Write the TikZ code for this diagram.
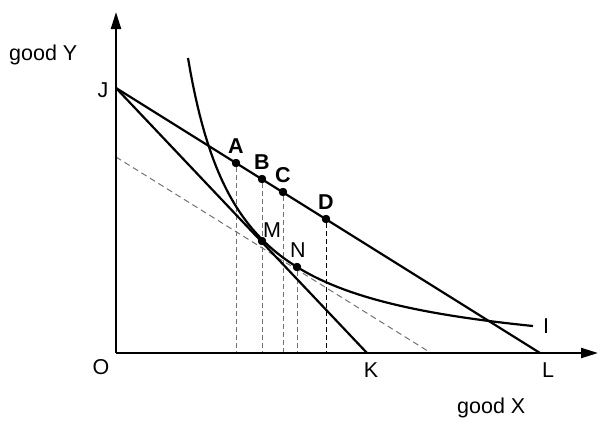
\documentclass[tikz,border=0pt]{standalone}
\usepackage{fontspec}
\setmainfont{Liberation Sans}
\usetikzlibrary{arrows.meta}
\begin{document}
\begin{tikzpicture}[x=1pt,y=-1pt,
  axis/.style={line width=2.2pt,-{Triangle[length=17pt,width=10pt]}},
  budget/.style={line width=2.2pt,line join=round},
  guide/.style={line width=1pt,black!55,dash pattern=on 5pt off 3pt},
  darkguide/.style={line width=1pt,black,dash pattern=on 5pt off 3pt},
  slope/.style={line width=1pt,black!55,dash pattern=on 6pt off 4pt},
  dot/.style={circle,fill=black,inner sep=0pt,minimum size=8pt},
  lbl/.style={font=\fontsize{21.5}{26}\selectfont,inner sep=0pt},
  blbl/.style={font=\fontsize{21.5}{26}\selectfont\bfseries,inner sep=0pt}]
\useasboundingbox (0,0) rectangle (610,434);
% key coordinates
\coordinate (O) at (116,353);
\coordinate (ytop) at (116,12);
\coordinate (xend) at (598,353);
\coordinate (J) at (116,88);
\coordinate (K) at (367,353);
\coordinate (L) at (540,353);
\coordinate (P0) at (116,157);
\coordinate (P1) at (431,353);
\coordinate (Ax) at (236,353);
\coordinate (Bx) at (262,353);
\coordinate (Cx) at (283,353);
\coordinate (Nx) at (297,353);
\coordinate (Dx) at (326,353);
% points
\node[dot] (A) at (236,163) {};
\node[dot] (B) at (262,179) {};
\node[dot] (C) at (283,192) {};
\node[dot] (D) at (326,219) {};
\node[dot] (M) at (262,241) {};
\node[dot] (N) at (297,267) {};
% guides
\draw[guide] (A) -- (Ax);
\draw[guide] (B) -- (Bx);
\draw[guide] (C) -- (Cx);
\draw[guide] (N) -- (Nx);
\draw[darkguide] (D) -- (Dx);
\draw[slope] (P0) -- (P1);
% budget lines
\draw[budget] (J) -- (L);
\draw[budget] (J) -- (K);
% indifference curve
\draw[budget] plot[domain=72:417,samples=150] ({116+\x},{353-(15941/(\x-20.27)-13.18)});
% axes
\draw[axis] (O) -- (ytop);
\draw[axis] (O) -- (xend);
% redraw dots on top
\foreach \p in {A,B,C,D,M,N} \fill (\p) circle (4.2pt);
% labels
\node[lbl,anchor=base west] (gy) at (9,60) {good Y};
\node[lbl,anchor=base west] (gx) at (457,413) {good X};
\node[lbl] (lJ) at (103,90) {J};
\node[lbl] (lO) at (101,367) {O};
\node[lbl] (lK) at (371,370) {K};
\node[lbl] (lL) at (548,370) {L};
\node[lbl] (lI) at (546,326) {I};
\node[blbl] (lA) at (236,146) {A};
\node[blbl] (lB) at (262,162) {B};
\node[blbl] (lC) at (283,175) {C};
\node[blbl] (lD) at (326,202) {D};
\node[lbl] (lM) at (272,230) {M};
\node[lbl] (lN) at (298,250) {N};
\end{tikzpicture}
\end{document}
